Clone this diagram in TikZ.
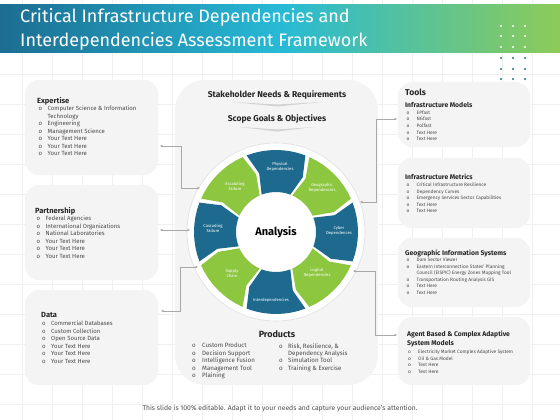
\documentclass[tikz,border=0pt]{standalone}
\usepackage{fontspec}
\setmainfont{Fira Sans}
\usetikzlibrary{arrows.meta}
\definecolor{segblue}{HTML}{1D6A8E}
\definecolor{seggreen}{HTML}{8DC63F}
\definecolor{boxgray}{HTML}{F4F4F4}
\definecolor{gridc}{HTML}{F0F0F0}
\definecolor{linec}{HTML}{A8A8A8}
\definecolor{txtc}{HTML}{4A4A4A}
\definecolor{bandL}{HTML}{1C6D92}
\definecolor{bandM}{HTML}{27BAD6}
\definecolor{bandR}{HTML}{8DCB58}
\definecolor{dotblue}{HTML}{1F6F93}
\newcommand\bul{\makebox[9pt][l]{o}}
\newcommand\bulr{\makebox[10pt][l]{o}}
\begin{document}
\begin{tikzpicture}[x=1pt,y=-1pt,
  panel/.style={fill=boxgray,rounded corners=14pt},
  ltitle/.style={inner sep=0pt,anchor=west,font=\fontsize{7.5}{9}\selectfont\bfseries,text=black!85},
  llist/.style={inner sep=0pt,anchor=north west,align=left,font=\fontsize{6}{7.5}\selectfont,text=txtc},
  rtitle/.style={inner sep=0pt,anchor=west,align=left,font=\fontsize{6.8}{9.5}\selectfont\bfseries,text=black!85},
  rlist/.style={inner sep=0pt,anchor=north west,align=left,font=\fontsize{4.8}{6.6}\selectfont,text=txtc},
  seglabel/.style={inner sep=0pt,align=center,text=white,font=\fontsize{4.2}{5}\selectfont},
  conn/.style={draw=linec,line width=0.6pt,{Stealth[length=3pt,width=2.6pt]}-{Stealth[length=3pt,width=2.6pt]}},
  heading/.style={inner sep=0pt,font=\fontsize{8.5}{10}\selectfont\bfseries,text=black!85}]
\useasboundingbox (0,0) rectangle (560,420);
\fill[white] (0,0) rectangle (560,420);
% grid
\foreach \gx in {22,52,...,560} \draw[gridc,line width=0.4pt] (\gx,0) -- (\gx,420);
\foreach \gy in {14,44,...,420} \draw[gridc,line width=0.4pt] (0,\gy) -- (560,\gy);
% banner
\shade[left color=bandL,right color=bandR,middle color=bandM] (0,5) rectangle (560,53);
\node[inner sep=0pt,anchor=west,text=white,font=\fontsize{18}{24}\selectfont] (title1) at (20,17) {Critical Infrastructure Dependencies and};
\node[inner sep=0pt,anchor=west,text=white,font=\fontsize{18}{24}\selectfont] (title2) at (20,41) {Interdependencies Assessment Framework};
\foreach \dx in {501,513,525} {
  \foreach \dy in {26,36,47} \fill[white] (\dx,\dy) circle (1.1);
  \foreach \dy in {58,69,79} \fill[dotblue] (\dx,\dy) circle (1.1);
}
% left panels
\fill[panel] (25,80) rectangle (158,175);
\fill[panel] (25,185) rectangle (158,280);
\fill[panel] (25,290) rectangle (158,385);
% right panels
\fill[panel] (398,82) rectangle (530,147);
\fill[panel] (398,158) rectangle (530,228);
\fill[panel] (398,238) rectangle (530,307);
\fill[panel] (398,317) rectangle (530,385);
% center panel
\fill[boxgray,rounded corners=30pt] (175,80) rectangle (378,385);
% Expertise
\node[ltitle] (expT) at (37,101) {Expertise};
\node[llist] (expL) at (38.5,106) {\bul Computer Science \& Information\\\hspace*{9pt}Technology\\\bul Engineering\\\bul Management Science\\\bul Your Text Here\\\bul Your Text Here\\\bul Your Text Here};
% Partnership
\node[ltitle] (parT) at (35,211) {Partnership};
\node[llist] (parL) at (36.5,216) {\bul Federal Agencies\\\bul International Organizations\\\bul National Laboratories\\\bul Your Text Here\\\bul Your Text Here\\\bul Your Text Here};
% Data
\node[ltitle] (datT) at (41,315) {Data};
\node[llist] (datL) at (42,321) {\bul Commercial Databases\\\bul Custom Collection\\\bul Open Source Data\\\bul Your Text Here\\\bul Your Text Here\\\bul Your Text Here};
% Tools
\node[inner sep=0pt,anchor=west,font=\fontsize{8.5}{10}\selectfont\bfseries,text=black!85] (toolT) at (405,92) {Tools};
\node[rtitle] (imT) at (405,105) {Infrastructure Models};
\node[rlist] (imL) at (406.5,110.5) {\bulr EPfast\\\bulr NGfast\\\bulr Polfast\\\bulr Text Here\\\bulr Text Here};
\node[rtitle] (mtT) at (405,177) {Infrastructure Metrics};
\node[rlist] (mtL) at (406.5,182.5) {\bulr Critical Infrastructure Resilience\\\bulr Dependency Curves\\\bulr Emergency Services Sector Capabilities\\\bulr Text Here\\\bulr Text Here};
\node[rtitle] (gisT) at (405,253) {Geographic Information Systems};
\node[rlist] (gisL) at (406.5,257.5) {\bulr Dam Sector Viewer\\\bulr Eastern Interconnection  States' Planning\\\hspace*{10pt}Council (EISPIC) Energy Zones Mapping Tool\\\bulr Transportation Routing Analysis GIS\\\bulr Text Here\\\bulr Text Here};
\node[rtitle] (agT) at (407,339) {Agent Based \& Complex Adaptive\\System Models};
\node[rlist] (agL) at (408,349.5) {\bulr Electricity  Market Complex Adaptive System\\\bulr Oil \& Gas Model\\\bulr Text Here\\\bulr Text Here};
% headings
\node[heading] (stake) at (277,95) {Stakeholder Needs \& Requirements};
\fill[gray!35] (232,102) -- (277,104.5) -- (322,102) -- (277,106.5) -- cycle;
\node[heading] (scope) at (277,119) {Scope Goals \& Objectives};
\fill[gray!35] (240,127) -- (277,129.5) -- (314,127) -- (277,131.5) -- cycle;
% wheel
\fill[white] (276,232) circle (89);
\draw[gray!25,line width=0.6pt] (276,232) circle (89);
\foreach \c/\col in {90/segblue,45/seggreen,0/segblue,-45/seggreen,-90/segblue,-135/seggreen,180/segblue,135/seggreen} {
  \pgfmathsetmacro\aA{\c+21}
  \pgfmathsetmacro\aB{\c-21}
  \pgfmathsetmacro\aT{\c-26}
  \pgfmathsetmacro\aN{\c+16}
  \fill[\col] plot[domain=\aA:\aB,samples=9] ({276+82*cos(\x)},{232-82*sin(\x)})
    -- ({276+61*cos(\aT)},{232-61*sin(\aT)})
    -- plot[domain=\aB:\aA,samples=9] ({276+40*cos(\x)},{232-40*sin(\x)})
    -- ({276+61*cos(\aN)},{232-61*sin(\aN)}) -- cycle;
}
\fill[white] ({276+37*cos(22.5)},{232-37*sin(22.5)})
  \foreach \k in {1,...,7} { -- ({276+37*cos(22.5+45*\k)},{232-37*sin(22.5+45*\k)}) } -- cycle;
\node[inner sep=0pt,font=\fontsize{11}{13}\selectfont\bfseries] (analysis) at (276,232) {Analysis};
\node[seglabel] (s1) at (280,167) {Physical\\Dependencies};
\node[seglabel] (s2) at (322,188) {Geographic\\Dependencies};
\node[seglabel] (s3) at (339,231) {Cyber\\Dependences};
\node[seglabel] (s4) at (317,273) {Logical\\Dependencies};
\node[seglabel] (s5) at (271,300) {Interdependencies};
\node[seglabel] (s6) at (232,273) {Supply\\Chain};
\node[seglabel] (s7) at (213,228) {Cascading\\Failure};
\node[seglabel] (s8) at (235,186) {Escalating\\Failure};
% products
\node[inner sep=0pt,font=\fontsize{9}{11}\selectfont\bfseries,text=black!85] (prodT) at (277,334) {Products};
\node[inner sep=0pt,anchor=north west,align=left,font=\fontsize{6.2}{7.4}\selectfont,text=txtc] (prodL) at (192,343) {\makebox[10pt][l]{o}Custom Product\\\makebox[10pt][l]{o}Decision Support\\\makebox[10pt][l]{o}Intelligence Fusion\\\makebox[10pt][l]{o}Management Tool\\\makebox[10pt][l]{o}Plaining};
\node[inner sep=0pt,anchor=north west,align=left,font=\fontsize{6.2}{7.4}\selectfont,text=txtc] (prodR) at (279,343) {\makebox[9pt][l]{o}Risk, Resilience, \&\\\hspace*{9pt}Dependency Analysis\\\makebox[9pt][l]{o}Simulation Tool\\\makebox[9pt][l]{o}Training \& Exercise};
% connectors
\coordinate (c1a) at (160,146); \coordinate (c1b) at (200,188);
\draw[conn] (c1a) -- (181,146) -- (181,188) -- (c1b);
\coordinate (c2a) at (160,230); \coordinate (c2b) at (190,230);
\draw[conn] (c2a) -- (c2b);
\coordinate (c3a) at (161,311); \coordinate (c3b) at (198,267);
\draw[conn] (c3a) -- (180,311) -- (180,267) -- (c3b);
\coordinate (c4a) at (360,202); \coordinate (c4b) at (397,119);
\draw[conn] (c4a) -- (376,202) -- (376,119) -- (c4b);
\coordinate (c5a) at (353,271); \coordinate (c5b) at (397,335);
\draw[conn] (c5a) -- (375,271) -- (375,335) -- (c5b);
% footer
\node[inner sep=0pt,font=\fontsize{6.8}{8}\selectfont,text=black!70] (foot) at (280,409) {This slide is 100\% editable. Adapt it to your needs and capture your audience’s attention.};
\end{tikzpicture}
\end{document}
